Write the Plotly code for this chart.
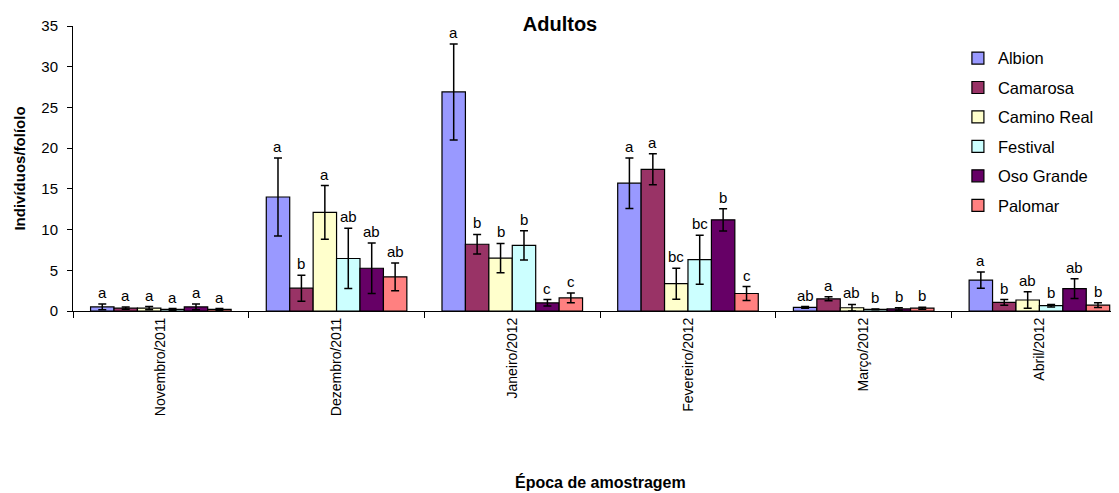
import plotly.graph_objects as go

categories = ["Novembro/2011", "Dezembro/2011", "Janeiro/2012", "Fevereiro/2012", "Março/2012", "Abril/2012"]
series_names = ["Albion", "Camarosa", "Camino Real", "Festival", "Oso Grande", "Palomar"]
colors = ["#9999FF", "#993366", "#FFFFCC", "#CCFFFF", "#660066", "#FF8080"]

albion = [0.5, 14.0, 26.9, 15.7, 0.45, 3.8]
camarosa = [0.35, 2.8, 8.2, 17.4, 1.5, 1.05]
camino_real = [0.35, 12.1, 6.5, 3.35, 0.4, 1.35]
festival = [0.2, 6.45, 8.05, 6.3, 0.2, 0.65]
oso_grande = [0.5, 5.25, 1.0, 11.2, 0.25, 2.75]
palomar = [0.2, 4.2, 1.6, 2.15, 0.35, 0.72]

albion_err = [0.35, 4.8, 5.9, 3.1, 0.1, 1.0]
camarosa_err = [0.15, 1.6, 1.2, 1.9, 0.25, 0.35]
camino_real_err = [0.2, 3.3, 1.8, 1.9, 0.4, 1.0]
festival_err = [0.1, 3.7, 1.8, 3.0, 0.05, 0.15]
oso_grande_err = [0.35, 3.1, 0.4, 1.37, 0.15, 1.2]
palomar_err = [0.1, 1.7, 0.6, 0.85, 0.12, 0.3]

albion_letters = ["a", "a", "a", "a", "ab", "a"]
camarosa_letters = ["a", "b", "b", "a", "a", "b"]
camino_real_letters = ["a", "a", "b", "bc", "ab", "ab"]
festival_letters = ["a", "ab", "b", "bc", "b", "b"]
oso_grande_letters = ["a", "ab", "c", "b", "b", "ab"]
palomar_letters = ["a", "ab", "c", "c", "b", "b"]

values = [albion, camarosa, camino_real, festival, oso_grande, palomar]
errors = [albion_err, camarosa_err, camino_real_err, festival_err, oso_grande_err, palomar_err]
letters = [albion_letters, camarosa_letters, camino_real_letters, festival_letters, oso_grande_letters, palomar_letters]

FONT = "Liberation Sans, Arial, sans-serif"

# page body has an 8px margin; figure is sized so the plot lands where the reference has it
W, H = 1111, 485

fig = go.Figure()
n = len(series_names)
group_w = 0.8
bar_w = group_w / n
annotations = []
for i, name in enumerate(series_names):
    fig.add_trace(go.Bar(
        x=categories, y=values[i], name=name,
        marker=dict(color=colors[i], line=dict(color="black", width=1.2)),
        error_y=dict(type="data", array=errors[i], color="black", thickness=1.5, width=4),
        legendgroup=name,
    ))
    offset = -group_w / 2 + bar_w * (i + 0.5)
    for j in range(len(categories)):
        annotations.append(dict(
            x=j + offset, y=values[i][j] + errors[i][j], xref="x", yref="y",
            text=letters[i][j], showarrow=False, yanchor="bottom", yshift=1,
            font=dict(family=FONT, size=15, color="black"),
        ))

annotations.append(dict(
    x=0.504, y=-0.6, xref="paper", yref="paper", text="<b>Época de amostragem</b>",
    showarrow=False, xanchor="center", yanchor="middle",
    font=dict(family=FONT, size=16, color="black"),
))

fig.update_layout(
    width=W, height=H,
    margin=dict(l=65, r=0, t=18, b=182),
    plot_bgcolor="white", paper_bgcolor="white",
    barmode="group", bargap=0.2, bargroupgap=0,
    font=dict(family=FONT, size=14, color="black"),
    title=dict(text="<b>Adultos</b>", x=552 / W, xref="container", xanchor="center",
               y=1 - 16 / H, yanchor="middle", font=dict(family=FONT, size=20, color="black")),
    legend=dict(x=0.846, y=0.948, xanchor="left", yanchor="top", tracegroupgap=5,
                font=dict(family=FONT, size=16.5, color="black"), bgcolor="rgba(0,0,0,0)"),
    annotations=annotations,
    showlegend=True,
)
fig.update_xaxes(
    type="category", range=[-0.5, 5.453], showline=True, linecolor="black", linewidth=1,
    ticks="outside", tickson="boundaries", ticklen=6, tickcolor="black",
    tickangle=-90, tickfont=dict(family=FONT, size=14), showgrid=False,
)
fig.update_yaxes(
    range=[0, 35], dtick=5, showline=True, linecolor="black", linewidth=1,
    ticks="outside", ticklen=5, tickcolor="black", showgrid=False, zeroline=False,
    tickfont=dict(family=FONT, size=15), ticklabelstandoff=6,
    title=dict(text="<b>Indivíduos/folíolo</b>", font=dict(family=FONT, size=15), standoff=12),
)

fig.write_html("out.html")
